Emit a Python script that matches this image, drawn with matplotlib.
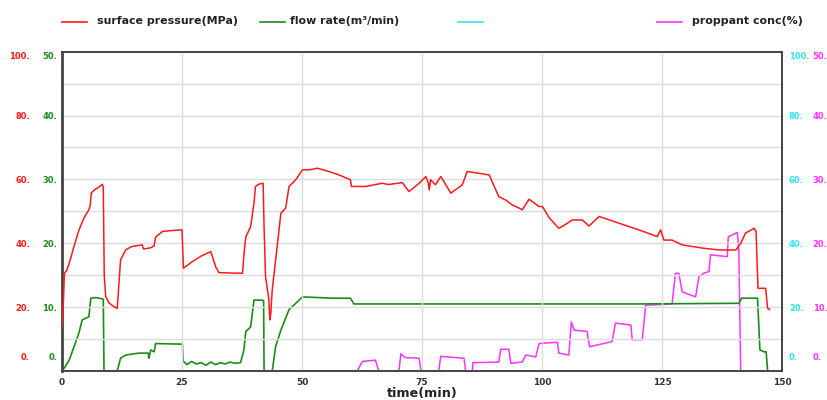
import matplotlib
matplotlib.use("Agg")
import matplotlib.pyplot as plt
from matplotlib.lines import Line2D
from matplotlib.transforms import ScaledTranslation

# ---------------- data ----------------
pressure_t = [0.0, 0.3, 0.5, 1.0, 1.5, 2.5, 3.5, 4.6, 5.6, 5.9, 6.1, 7.0, 7.6, 8.4, 8.6, 8.8, 9.1, 9.8,
              10.8, 11.5, 11.8, 12.2, 13.3, 14.6, 16.7, 17.0, 18.5, 19.2, 19.5, 20.9, 23.0, 25.0, 25.3,
              27.2, 29.0, 31.0, 32.0, 32.7, 35.0, 37.6, 38.0, 38.3, 39.3, 40.0, 40.3, 41.0, 41.9, 42.1,
              42.4, 43.1, 43.3, 43.5, 43.8, 44.9, 45.6, 46.6, 47.3, 48.7, 50.1, 51.5, 53.2, 55.6, 57.7,
              60.1, 60.3, 63.3, 66.7, 68.0, 70.9, 72.3, 74.4, 75.8, 76.3, 76.5, 76.8, 77.8, 78.9, 79.5,
              81.0, 83.4, 84.4, 89.0, 91.0, 92.5, 93.8, 95.0, 95.9, 97.3, 99.4, 100.1, 101.5, 103.5,
              104.5, 106.3, 108.4, 109.8, 111.9, 116.0, 120.2, 124.0, 124.7, 125.4, 127.1, 129.2, 133.4,
              136.9, 140.4, 141.4, 142.4, 144.2, 144.6, 145.0, 146.6, 147.0, 147.4]
pressure = [13.9, 22.0, 30.6, 31.5, 33.7, 39.0, 44.0, 48.0, 50.5, 52.0, 55.8, 57.0, 57.5, 58.5, 57.5, 30.0,
            23.3, 21.3, 20.2, 19.6, 26.0, 34.8, 38.0, 39.0, 39.5, 38.2, 38.6, 39.2, 41.9, 43.7, 44.0, 44.2,
            32.2, 34.3, 36.0, 37.4, 32.7, 30.8, 30.7, 30.6, 38.0, 42.0, 45.2, 52.5, 57.8, 58.5, 58.8, 45.0,
            29.6, 22.3, 16.0, 18.0, 25.4, 40.0, 49.4, 51.0, 57.8, 59.9, 63.0, 63.0, 63.5, 62.5, 61.4,
            59.9, 57.8, 57.8, 58.8, 58.4, 59.0, 56.2, 58.8, 60.9, 59.0, 56.7, 59.9, 58.3, 60.9, 59.5,
            55.7, 58.3, 62.5, 61.4, 54.6, 53.5, 52.0, 51.2, 50.5, 53.8, 51.5, 51.5, 48.0, 44.7,
            45.5, 47.3, 47.3, 45.4, 48.4, 46.3, 44.2, 42.1, 44.2, 41.0, 41.0, 39.5, 38.5,
            37.9, 37.9, 40.0, 43.2, 44.7, 43.7, 25.9, 25.9, 19.6, 19.3]

flow_t = [0.0, 0.5, 1.5, 2.5, 3.5, 4.2, 5.6, 6.0, 7.0, 8.4, 8.6, 8.75, 11.5, 12.2, 13.3, 16.0, 18.0, 18.1,
          18.5, 19.2, 19.5, 25.1, 25.2, 26.0, 27.0, 28.0, 29.0, 30.0, 31.0, 32.0, 33.0, 34.0, 35.0, 36.0,
          37.2, 37.9, 38.3, 39.3, 40.0, 41.7, 42.0, 42.1, 43.8, 44.5, 45.6, 47.3, 48.7, 50.1, 53.5, 56.0,
          60.1, 60.8, 80.0, 100.0, 120.0, 141.0, 141.6, 144.9, 145.4, 146.3, 146.7, 147.0]
flow = [0.0, 0.5, 1.7, 3.8, 5.9, 8.0, 8.5, 11.4, 11.5, 11.3, 11.2, 0.0, 0.0, 2.0, 2.5, 2.8, 2.8, 2.0,
        3.3, 3.0, 4.3, 4.2, 1.6, 1.0, 1.5, 1.1, 1.3, 0.9, 1.4, 1.0, 1.3, 1.1, 1.4, 1.2,
        1.3, 3.3, 6.2, 6.9, 11.1, 11.1, 11.0, 0.0, 0.0, 3.8, 6.4, 9.6, 10.6, 11.6, 11.5, 11.4,
        11.4, 10.5, 10.5, 10.5, 10.5, 10.6, 11.4, 11.4, 3.3, 3.0, 3.0, 0.0]

prop_t = [0.0, 61.5, 62.6, 65.3, 66.0, 70.2, 70.6, 71.5, 74.4, 74.8, 78.5, 78.9, 83.75, 84.1, 85.5, 85.6,
          91.0, 91.4, 93.1, 93.5, 95.9, 96.6, 98.7, 99.4, 103.2, 103.5, 105.6, 106.1, 106.7, 109.4,
          109.9, 114.6, 115.3, 118.5, 118.8, 120.9, 121.6, 127.1, 127.8, 128.5, 129.2, 132.0, 132.7,
          133.75, 134.8, 135.1, 138.6, 138.8, 140.7, 141.0, 141.4, 147.0]
prop = [0.0, 0.0, 1.5, 1.7, 0.0, 0.0, 2.7, 2.1, 2.0, 0.0, 0.0, 2.3, 2.0, 0.0, 0.0, 1.3,
        1.4, 3.4, 3.4, 1.2, 1.4, 2.5, 2.2, 4.3, 4.5, 2.8, 2.5, 7.7, 6.4, 6.2,
        3.8, 4.6, 7.5, 7.2, 4.9, 4.9, 10.3, 10.5, 15.3, 15.3, 12.4, 11.6, 14.8,
        15.3, 15.6, 18.2, 17.9, 21.0, 21.7, 19.0, 0.0, 0.0]

cyan_t = [0.0, 147.0]
cyan_v = [0.0, 0.0]

x_ticks = [0, 25, 50, 75, 100, 125, 150]
p_ticks = [0, 20, 40, 60, 80, 100]
f_ticks = [0, 10, 20, 30, 40, 50]

legend_labels = ["surface pressure(MPa)", "flow rate(m³/min)", "", "proppant conc(%)"]

# ---------------- style ----------------
RED = "#ff1a1a"
GREEN = "#1a8c1a"
CYAN = "#33e6e6"
MAG = "#ff33ff"
FRAME = "#444444"

W, H = 827, 400
fig = plt.figure(figsize=(W / 100, H / 100), dpi=100)
L, R, T, B = 62, 782, 51.7, 371
ax = fig.add_axes([L / W, 1 - B / H, (R - L) / W, (B - T) / H])
ax.set_xlim(0, 150)
ax.set_ylim(0, 100)

ax_f = ax.twinx()
ax_c = ax.twinx()
ax_m = ax.twinx()
ax_f.set_ylim(0, 50)
ax_c.set_ylim(0, 100)
ax_m.set_ylim(0, 50)

# grid
for y in range(10, 100, 10):
    ax.axhline(y, color="#dcdcdc", lw=1.0, zorder=0)
for x in [25, 50, 75, 100, 125]:
    ax.axvline(x, color="#dcdcdc", lw=1.0, zorder=0)

# lines
ax_c.plot(cyan_t, cyan_v, color=CYAN, lw=1.2, zorder=2)
ax_m.plot(prop_t, prop, color=MAG, lw=1.1, zorder=3)
ax_f.plot(flow_t, flow, color=GREEN, lw=1.2, zorder=4)
ax.plot(pressure_t, pressure, color=RED, lw=1.1, zorder=5)
ax.set_zorder(ax_m.get_zorder() + 1)
ax.patch.set_visible(False)
ax_f.set_zorder(ax_m.get_zorder() + 0.5)
for a in (ax_f, ax_c, ax_m):
    a.patch.set_visible(False)

# spines
for a in (ax, ax_f, ax_c, ax_m):
    for s in a.spines.values():
        s.set_visible(False)
for s in ["left", "right", "top", "bottom"]:
    ax.spines[s].set_visible(True)
    ax.spines[s].set_color(FRAME)
    ax.spines[s].set_linewidth(1.4)
ax.spines["left"].set_linewidth(2.0)

fs = 6.0
# x ticks
ax.set_xticks(x_ticks)
ax.set_xticklabels([str(v) for v in x_ticks], fontsize=fs + 0.5, fontweight="bold", color="#333333")
ax.tick_params(axis="x", length=0, pad=5)

# pressure ticks (left, outer)
ax.set_yticks(p_ticks)
ax.set_yticklabels([f"{v}." for v in p_ticks], fontsize=fs, fontweight="bold", color=RED)
ax.tick_params(axis="y", length=0, pad=23)

# flow ticks (left, inner)
ax_f.yaxis.set_ticks_position("left")
ax_f.set_yticks(f_ticks)
ax_f.set_yticklabels([f"{v}." for v in f_ticks], fontsize=fs, fontweight="bold", color=GREEN)
ax_f.tick_params(axis="y", length=0, pad=3.5, left=True, right=False, labelleft=True, labelright=False)

# cyan ticks (right, inner)
ax_c.set_yticks(p_ticks)
ax_c.set_yticklabels([f"{v}." for v in p_ticks], fontsize=fs, fontweight="bold", color=CYAN)
ax_c.tick_params(axis="y", length=0, pad=5)

# magenta ticks (right, outer)
ax_m.set_yticks(f_ticks)
ax_m.set_yticklabels([f"{v}." for v in f_ticks], fontsize=fs, fontweight="bold", color=MAG)
ax_m.tick_params(axis="y", length=0, pad=22)

up = ScaledTranslation(0, 0.09, fig.dpi_scale_trans)
for a in (ax, ax_f, ax_c, ax_m):
    labs = a.get_yticklabels()
    labs[0].set_va("bottom")
    labs[0].set_transform(labs[0].get_transform() + up)
    labs[-1].set_va("top")

ax.set_xlabel("time(min)", fontsize=9.2, fontweight="bold", color="#222222", labelpad=0)

# legend (manual)
leg_y = 1 - 21.5 / H
items = [(62, 87, 97, RED), (260, 285, 290, GREEN), (458, 483, 493, CYAN), (657, 682, 692, MAG)]
for (x0, x1, xt, c), lab in zip(items, legend_labels):
    fig.add_artist(Line2D([x0 / W, x1 / W], [leg_y, leg_y], color=c, lw=1.2, transform=fig.transFigure))
    if lab:
        fig.text(xt / W, leg_y, lab, fontsize=7.9, fontweight="bold", color="#222222",
                 va="center", ha="left")

fig.savefig("out.png", dpi=100)
